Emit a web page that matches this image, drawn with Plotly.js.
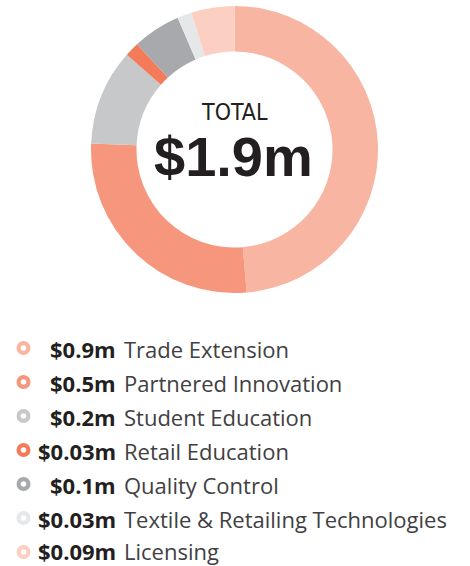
<!DOCTYPE html>
<html>
<head>
<meta charset="utf-8">
<script src="https://cdn.plot.ly/plotly-3.0.1.min.js"></script>
<style>
html,body{margin:0;padding:0;background:#fff;}
#chart{width:470px;height:566px;}
</style>
</head>
<body>
<div id="chart"></div>
<script>
// Data
const categories = ["Trade Extension","Partnered Innovation","Student Education","Retail Education","Quality Control","Textile & Retailing Technologies","Licensing"];
const values = [0.9, 0.5, 0.2, 0.03, 0.1, 0.03, 0.09];
const valueLabels = ["$0.9m","$0.5m","$0.2m","$0.03m","$0.1m","$0.03m","$0.09m"];
const colors = ["#f8b6a2","#f6977d","#c7c8ca","#f37b59","#a7a9ac","#e6e7e8","#fbd0c2"];
const totalLabel = "TOTAL";
const totalValue = "$1.9m";

// Layout constants (pixel space)
const W = 470, H = 566;
const cx = 234.5, cy = 149.5, R = 143.5;
const rowStart = 348, rowGap = 34;
const markerX = 23.5, valueRight = 117, labelLeft = 123;

const rows = categories.map((_, i) => rowStart + i * rowGap);

const pie = {
  type: 'pie',
  values: values,
  labels: categories,
  marker: {colors: colors, line: {width: 0}},
  hole: 0.683,
  sort: false,
  direction: 'clockwise',
  rotation: 0,
  textinfo: 'none',
  hoverinfo: 'label+value',
  domain: {x: [(cx - R) / W, (cx + R) / W], y: [1 - (cy + R) / H, 1 - (cy - R) / H]},
  showlegend: false
};

const legendOuter = {
  type: 'scatter',
  mode: 'markers',
  x: rows.map(() => markerX),
  y: rows,
  marker: {symbol: 'circle', size: 14, color: colors, line: {width: 0}},
  hoverinfo: 'skip',
  showlegend: false
};
const legendInner = {
  type: 'scatter',
  mode: 'markers',
  x: rows.map(() => markerX),
  y: rows,
  marker: {symbol: 'circle', size: 5.5, color: '#ffffff', line: {width: 0}},
  hoverinfo: 'skip',
  showlegend: false
};

const annotations = [];
rows.forEach((y, i) => {
  const ty = Math.min(y + 0.5, H - 15.5);
  annotations.push({
    xref: 'x', yref: 'y', x: valueRight, y: ty, xanchor: 'right', yanchor: 'middle',
    text: '<b>' + valueLabels[i] + '</b>', showarrow: false, borderpad: 0,
    font: {family: 'Open Sans, sans-serif', size: 22, color: '#231f20'}
  });
  annotations.push({
    xref: 'x', yref: 'y', x: labelLeft, y: ty, xanchor: 'left', yanchor: 'middle',
    text: categories[i].replace('&', '&amp;'), showarrow: false, borderpad: 0,
    font: {family: 'Open Sans, sans-serif', size: 22, color: '#414042'}
  });
});
annotations.push({
  xref: 'x', yref: 'y', x: cx, y: 111.5, xanchor: 'center', yanchor: 'middle',
  text: totalLabel, showarrow: false, borderpad: 0,
  font: {family: 'DejaVu Sans Condensed, DejaVu Sans, sans-serif', size: 23, color: '#231f20'}
});
annotations.push({
  xref: 'x', yref: 'y', x: cx - 1, y: 156.5, xanchor: 'center', yanchor: 'middle',
  text: '<b>' + totalValue + '</b>', showarrow: false, borderpad: 0,
  font: {family: 'Liberation Sans, Arial, sans-serif', size: 56, color: '#231f20'}
});

const layout = {
  width: W, height: H,
  margin: {l: 0, r: 0, t: 0, b: 0, pad: 0},
  paper_bgcolor: '#fff', plot_bgcolor: 'rgba(0,0,0,0)',
  showlegend: false,
  xaxis: {range: [0, W], visible: false, fixedrange: true, domain: [0, 1]},
  yaxis: {range: [H, 0], visible: false, fixedrange: true, domain: [0, 1]},
  annotations: annotations
};

Plotly.newPlot('chart', [pie, legendOuter, legendInner], layout, {displayModeBar: false, staticPlot: true});
</script>
</body>
</html>
